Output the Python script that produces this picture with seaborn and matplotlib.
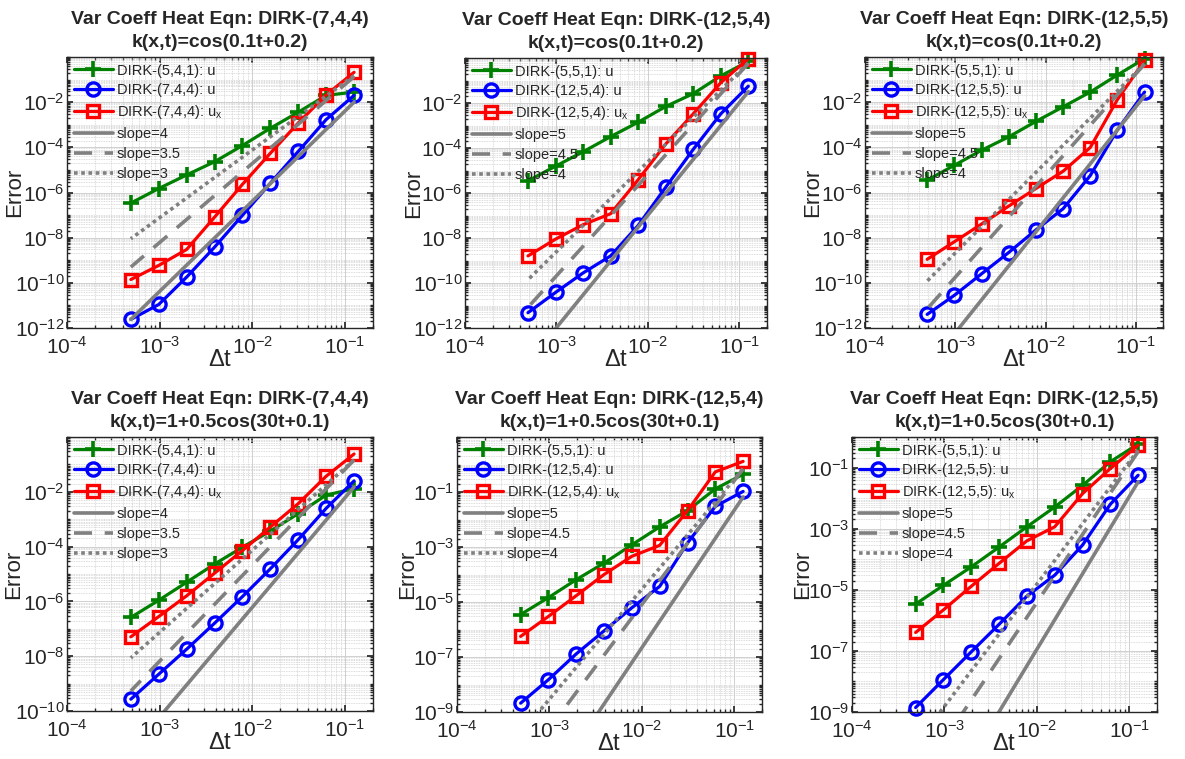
import numpy as np
import matplotlib
matplotlib.use("Agg")
import matplotlib.pyplot as plt
import matplotlib.ticker as mticker
import seaborn as sns

sns.set_theme(style="ticks")
plt.rcParams['font.family'] = ['Liberation Sans', 'DejaVu Sans']
plt.rcParams['mathtext.fontset'] = 'custom'
plt.rcParams['mathtext.rm'] = 'Liberation Sans'
plt.rcParams['mathtext.it'] = 'Liberation Sans:italic'
plt.rcParams['mathtext.bf'] = 'Liberation Sans:bold'

# time steps (same for every panel), largest to smallest
dt = [0.125, 0.0625, 0.03125, 0.015625, 0.0078125, 0.00390625,
      0.001953125, 0.0009765625, 0.00048828125]
# reference slope lines run between the two end steps
dt_ends = [0.125, 0.00048828125]

titles = [
    "Var Coeff Heat Eqn: DIRK-(7,4,4)\nk(x,t)=cos(0.1t+0.2)",
    "Var Coeff Heat Eqn: DIRK-(12,5,4)\nk(x,t)=cos(0.1t+0.2)",
    "Var Coeff Heat Eqn: DIRK-(12,5,5)\nk(x,t)=cos(0.1t+0.2)",
    "Var Coeff Heat Eqn: DIRK-(7,4,4)\nk(x,t)=1+0.5cos(30t+0.1)",
    "Var Coeff Heat Eqn: DIRK-(12,5,4)\nk(x,t)=1+0.5cos(30t+0.1)",
    "Var Coeff Heat Eqn: DIRK-(12,5,5)\nk(x,t)=1+0.5cos(30t+0.1)",
]
labels_744 = ["DIRK-(5,4,1): u", "DIRK-(7,4,4): u", r"DIRK-(7,4,4): u$_\mathregular{x}$",
              "slope=4", "slope=3.5", "slope=3"]
labels_1254 = ["DIRK-(5,5,1): u", "DIRK-(12,5,4): u", r"DIRK-(12,5,4): u$_\mathregular{x}$",
               "slope=5", "slope=4.5", "slope=4"]
labels_1255 = ["DIRK-(5,5,1): u", "DIRK-(12,5,5): u", r"DIRK-(12,5,5): u$_\mathregular{x}$",
               "slope=5", "slope=4.5", "slope=4"]

# panel 1
p1_green = [0.028, 0.02, 3.6e-3, 7e-4, 1.2e-4, 2.3e-5, 6e-6, 1.5e-6, 3.4e-7]
p1_blue = [0.02, 1.7e-3, 6.6e-5, 2.6e-6, 9.8e-8, 3.8e-9, 1.8e-10, 1.1e-11, 2.4e-12]
p1_red = [0.21, 0.021, 1.2e-3, 5.5e-5, 2.3e-6, 8.1e-8, 3e-9, 5.9e-10, 1.4e-10]
p1_solid = [1.0e-2, 2.4e-12]
p1_dash = [0.135, 5e-10]
p1_dot = [0.15, 9e-9]
# panel 2
p2_green = [0.71, 0.16, 0.026, 7e-3, 1.4e-3, 3.2e-4, 6.8e-5, 1.55e-5, 3.5e-6]
p2_blue = [0.056, 3.3e-3, 8.7e-5, 1.8e-6, 3.6e-8, 1.6e-9, 2.8e-10, 3.8e-11, 4.8e-12]
p2_red = [0.93, 0.08, 3.3e-3, 1.5e-4, 3.9e-6, 1.2e-7, 3.9e-8, 8.9e-9, 1.6e-9]
p2_solid = [0.032, 2.9e-14]
p2_dash = [0.58, 8.3e-12]
p2_dot = [0.6, 1.4e-10]
# panel 3
p3_green = [0.85, 0.16, 0.028, 6.2e-3, 1.4e-3, 2.9e-4, 7.4e-5, 1.6e-5, 3.5e-6]
p3_blue = [0.028, 5.9e-4, 5.6e-6, 1.9e-7, 2.2e-8, 2.2e-9, 2.5e-10, 2.8e-11, 4e-12]
p3_red = [0.7, 0.013, 9.8e-5, 8.7e-6, 1.5e-6, 2.5e-7, 4e-8, 6.6e-9, 1.1e-9]
p3_solid = [0.019, 1.7e-14]
p3_dash = [0.49, 7e-12]
p3_dot = [0.5, 1.2e-10]
# panel 4
p4_green = [0.013, 7.6e-3, 1.6e-3, 3.7e-4, 9.5e-5, 2.3e-5, 5e-6, 1.1e-6, 2.6e-7]
p4_blue = [0.025, 2.5e-3, 1.8e-4, 1.55e-5, 1.5e-6, 1.6e-7, 1.8e-8, 2.2e-9, 2.7e-10]
p4_red = [0.24, 0.037, 3.7e-3, 5.2e-4, 7.2e-5, 1.07e-5, 1.6e-6, 2.8e-7, 5.1e-8]
p4_solid = [0.015, 3.5e-12]
p4_dash = [0.145, 5.4e-10]
p4_dot = [0.145, 8.7e-9]
# panel 5
p5_green = [0.44, 0.13, 0.021, 5.4e-3, 1.2e-3, 2.6e-4, 6.5e-5, 1.45e-5, 3.5e-6]
p5_blue = [0.105, 0.03, 1.4e-3, 3.7e-5, 6.2e-6, 8.9e-7, 1.3e-7, 1.5e-8, 2.1e-9]
p5_red = [1.3, 0.54, 0.021, 1.15e-3, 4.6e-4, 1e-4, 1.7e-5, 3e-6, 5.6e-7]
p5_solid = [0.066, 6e-14]
p5_dash = [0.7, 1e-11]
p5_dot = [0.7, 1.66e-10]
# panel 6
p6_green = [0.59, 0.155, 0.026, 5.1e-3, 1.15e-3, 2.5e-4, 5.6e-5, 1.4e-5, 3.4e-6]
p6_blue = [0.056, 6.3e-3, 2.9e-4, 3e-5, 6.2e-6, 7.4e-7, 9.3e-8, 1.15e-8, 1.4e-9]
p6_red = [0.54, 0.093, 0.014, 1.15e-3, 4e-4, 7.3e-5, 1.3e-5, 2.2e-6, 4e-7]
p6_solid = [0.034, 3.1e-14]
p6_dash = [0.33, 4.8e-12]
p6_dot = [0.37, 8.7e-11]

ylims = [(1e-12, 1), (1e-12, 1), (1e-12, 1), (1e-10, 1), (1e-9, 10), (1e-9, 1)]
yticks_top = [1e-12, 1e-10, 1e-8, 1e-6, 1e-4, 1e-2]
yticks_odd = [1e-9, 1e-7, 1e-5, 1e-3, 1e-1]
yticks_list = [yticks_top, yticks_top, yticks_top,
               [1e-10, 1e-8, 1e-6, 1e-4, 1e-2], yticks_odd, yticks_odd]
xticks = [1e-4, 1e-3, 1e-2, 1e-1]

panels = [
    (p1_green, p1_blue, p1_red, p1_solid, p1_dash, p1_dot, labels_744),
    (p2_green, p2_blue, p2_red, p2_solid, p2_dash, p2_dot, labels_1254),
    (p3_green, p3_blue, p3_red, p3_solid, p3_dash, p3_dot, labels_1255),
    (p4_green, p4_blue, p4_red, p4_solid, p4_dash, p4_dot, labels_744),
    (p5_green, p5_blue, p5_red, p5_solid, p5_dash, p5_dot, labels_1254),
    (p6_green, p6_blue, p6_red, p6_solid, p6_dash, p6_dot, labels_1255),
]

W, H = 1185, 759
# axes boxes in pixels: left, right, top, bottom
boxes = [(67, 373, 57, 328), (465, 767, 58, 328), (865, 1163, 57, 328),
         (67, 373, 437, 711), (457, 762, 437, 712), (852, 1157, 437, 712)]
# x pixel of the centre of the "Error" label
ylab_x = [15, 414, 813, 14, 408, 803]

GREEN, BLUE, RED, GRAY = '#008000', '#0000ff', '#ff0000', '#808080'

fig = plt.figure(figsize=(W / 100, H / 100), dpi=100)

for i, (g, b, r, s1, s2, s3, labs) in enumerate(panels):
    L, R, T, B = boxes[i]
    ax = fig.add_axes([L / W, 1 - B / H, (R - L) / W, (B - T) / H])
    ax.set_xscale('log')
    ax.set_yscale('log')

    sns.lineplot(x=dt, y=g, ax=ax, color=GREEN, marker='+', markersize=11,
                 markeredgewidth=2.6, markeredgecolor=GREEN, linewidth=2.3,
                 label=labs[0], clip_on=False, estimator=None, sort=False)
    sns.lineplot(x=dt, y=b, ax=ax, color=BLUE, marker='o', markersize=9.5,
                 markeredgewidth=2.4, markeredgecolor=BLUE, markerfacecolor='none',
                 linewidth=2.3, label=labs[1], clip_on=False, estimator=None, sort=False)
    sns.lineplot(x=dt, y=r, ax=ax, color=RED, marker='s', markersize=8.5,
                 markeredgewidth=2.4, markeredgecolor=RED, markerfacecolor='none',
                 linewidth=2.3, label=labs[2], clip_on=False, estimator=None, sort=False)
    sns.lineplot(x=dt_ends, y=s1, ax=ax, color=GRAY, linewidth=2.6,
                 label=labs[3], estimator=None, sort=False)
    sns.lineplot(x=dt_ends, y=s2, ax=ax, color=GRAY, linewidth=2.6,
                 linestyle=(0, (5, 3.5)), label=labs[4], estimator=None, sort=False)
    sns.lineplot(x=dt_ends, y=s3, ax=ax, color=GRAY, linewidth=2.6,
                 linestyle=(0, (1, 1)), label=labs[5], estimator=None, sort=False)

    ax.set_xlim(1e-4, 0.2)
    ax.set_ylim(*ylims[i])
    ax.set_xticks(xticks)
    ax.set_yticks(yticks_list[i])
    ax.xaxis.set_minor_locator(mticker.LogLocator(base=10, subs=np.arange(1, 10), numticks=100))
    ax.yaxis.set_minor_locator(mticker.LogLocator(base=10, subs=np.arange(1, 10), numticks=100))
    ax.xaxis.set_minor_formatter(mticker.NullFormatter())
    ax.yaxis.set_minor_formatter(mticker.NullFormatter())

    ax.grid(True, which='major', color='#d0d0d0', linewidth=0.7, linestyle='-')
    ax.grid(True, which='minor', color='#d0d0d0', linewidth=0.6, linestyle=(0, (1, 1)))
    ax.set_axisbelow(True)

    ax.tick_params(which='both', direction='in', top=True, right=True,
                   colors='#262626', labelcolor='#262626')
    ax.tick_params(which='major', length=4)
    ax.tick_params(which='minor', length=2)
    ax.tick_params(axis='x', which='major', labelsize=15, pad=6)
    ax.tick_params(axis='y', which='major', labelsize=15, pad=2)
    for sp in ax.spines.values():
        sp.set_color('#262626')
        sp.set_linewidth(1.0)

    ax.set_xlabel(r"$\Delta$t", fontsize=17, labelpad=-7)
    ax.set_ylabel("Error", fontsize=16)
    ax.yaxis.label.set_verticalalignment('center')
    ax.yaxis.set_label_coords((ylab_x[i] - L) / (R - L), 0.5)
    ax.set_title(titles[i], fontsize=14, fontweight='bold', pad=7, linespacing=1.5)

    ax.legend(loc='upper left', frameon=False, fontsize=10.5, handlelength=2.7,
              handletextpad=0.25, borderaxespad=0.2, labelspacing=0.4,
              borderpad=0.25)

fig.savefig("out.png", dpi=100)
